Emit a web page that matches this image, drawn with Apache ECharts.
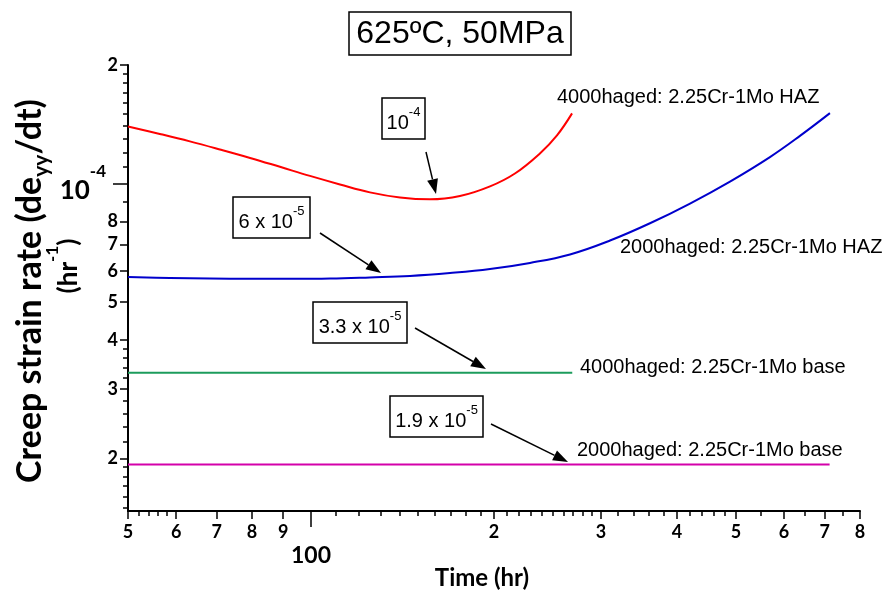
<!DOCTYPE html>
<html>
<head>
<meta charset="utf-8">
<script src="https://cdn.jsdelivr.net/npm/echarts@6/dist/echarts.min.js"></script>
<style>html,body{margin:0;padding:0;background:#fff}#c{width:885px;height:595px}</style>
</head>
<body>
<div id="c"></div>
<script>
// ---- data (raw values) ----
const redX = [50, 56.4, 63.2, 70.8, 79.4, 88.9, 99.6, 111.6, 125.0, 140.1, 156.9, 175.8, 197.0, 216.5, 238.0, 253.9, 268.8];
const redY = [1.396e-4, 1.336e-4, 1.279e-4, 1.220e-4, 1.161e-4, 1.102e-4, 1.045e-4, 0.994e-4, 0.949e-4, 0.921e-4, 0.911e-4, 0.929e-4, 0.983e-4, 1.060e-4, 1.192e-4, 1.325e-4, 1.507e-4];
const blueX = [50, 58.6, 68.2, 79.4, 92.4, 107.5, 125.0, 145.5, 169.3, 197.0, 229.2, 266.7, 310.4, 361.1, 420.2, 488.9, 568.8, 637.3, 713.9];
const blueY = [5.78e-5, 5.75e-5, 5.73e-5, 5.72e-5, 5.72e-5, 5.73e-5, 5.77e-5, 5.82e-5, 5.92e-5, 6.06e-5, 6.28e-5, 6.60e-5, 7.16e-5, 7.92e-5, 8.89e-5, 1.011e-4, 1.167e-4, 1.321e-4, 1.509e-4];
const greenX = [50, 269];
const greenY = [3.3e-5, 3.3e-5];
const magentaX = [50, 713];
const magentaY = [1.93e-5, 1.93e-5];

const seriesNames = ['4000haged: 2.25Cr-1Mo HAZ', '2000haged: 2.25Cr-1Mo HAZ', '4000haged: 2.25Cr-1Mo base', '2000haged: 2.25Cr-1Mo base'];

// axis ticks
const xRange = [50, 800];
const yRange = [1.47e-5, 2e-4];
const xLabeledTicks = [50, 60, 70, 80, 90, 200, 300, 400, 500, 600, 700, 800];
const xBigTick = [100];
const xMinorTicks = [52, 54, 56, 58, 110, 120, 130, 140, 150, 160, 170, 180, 190, 210, 220, 230, 240, 250, 260, 270, 280, 290, 320, 340, 360, 380, 420, 440, 460, 480, 550, 650, 750];
const yLabeledTicks = [2e-5, 3e-5, 4e-5, 5e-5, 6e-5, 7e-5, 8e-5, 2e-4];
const yBigTick = [1e-4];
const yMinorTicks = [1.5e-5, 1.6e-5, 1.7e-5, 1.8e-5, 1.9e-5, 2.2e-5, 2.4e-5, 2.6e-5, 2.8e-5, 3.2e-5, 3.4e-5, 3.6e-5, 3.8e-5, 9e-5, 1.1e-4, 1.2e-4, 1.3e-4, 1.4e-4, 1.5e-4, 1.6e-4, 1.7e-4, 1.8e-4, 1.9e-4];

const L = Math.log10;
const pairs = (xs, ys) => xs.map((x, i) => [L(x), L(ys[i])]);

const AX = '#000';
const lblFont = 'Lato, "Open Sans", sans-serif';
const txtFont = '"Liberation Sans", Arial, sans-serif';

function xAxisBase(extra) {
  return Object.assign({
    type: 'value', position: 'bottom', min: L(xRange[0]), max: L(xRange[1]),
    splitLine: { show: false },
    axisLine: { show: false, onZero: false },
  }, extra);
}
function yAxisBase(extra) {
  return Object.assign({
    type: 'value', position: 'left', min: L(yRange[0]), max: L(yRange[1]),
    splitLine: { show: false },
    axisLine: { show: false, onZero: false },
  }, extra);
}

const xFmt = v => { const n = Math.round(Math.pow(10, v)); return String(n >= 100 ? n / 100 : n / 10); };
const yFmt = v => { const n = Math.round(Math.pow(10, v) * 1e5); return String(n >= 10 ? n / 10 : n); };

const chart = echarts.init(document.getElementById('c'), null, { renderer: 'canvas' });

const option = {
  animation: false,
  backgroundColor: '#fff',
  grid: { left: 128, right: 25, top: 65, bottom: 84 },
  xAxis: [
    xAxisBase({
      axisLine: { show: true, onZero: false, lineStyle: { color: AX, width: 2 } },
      axisTick: { show: true, length: 8, customValues: xLabeledTicks.map(L), lineStyle: { color: AX, width: 1.5 } },
      axisLabel: { show: true, customValues: xLabeledTicks.map(L), formatter: xFmt, margin: 12,
        fontSize: 18, fontWeight: 'bold', color: AX, fontFamily: lblFont }
    }),
    xAxisBase({
      axisTick: { show: true, length: 5, customValues: xMinorTicks.map(L), lineStyle: { color: AX, width: 1.5 } },
      axisLabel: { show: false }
    }),
    xAxisBase({
      axisTick: { show: true, length: 16, customValues: xBigTick.map(L), lineStyle: { color: AX, width: 1.5 } },
      axisLabel: { show: true, customValues: xBigTick.map(L), formatter: v => String(Math.round(Math.pow(10, v))), margin: 33,
        fontSize: 23, fontWeight: 'bold', color: AX, fontFamily: lblFont }
    })
  ],
  yAxis: [
    yAxisBase({
      axisLine: { show: true, onZero: false, lineStyle: { color: AX, width: 2 } },
      axisTick: { show: true, length: 8, customValues: yLabeledTicks.map(L), lineStyle: { color: AX, width: 1.5 } },
      axisLabel: { show: true, customValues: yLabeledTicks.map(L), formatter: yFmt, margin: 10,
        fontSize: 18, fontWeight: 'bold', color: AX, fontFamily: lblFont }
    }),
    yAxisBase({
      axisTick: { show: true, length: 5, customValues: yMinorTicks.map(L), lineStyle: { color: AX, width: 1.5 } },
      axisLabel: { show: false }
    }),
    yAxisBase({
      axisTick: { show: true, length: 15, customValues: yBigTick.map(L), lineStyle: { color: AX, width: 1.5 } },
      axisLabel: { show: true, customValues: yBigTick.map(L), margin: 22,
        formatter: v => '{b|10}{s|' + Math.round(v) + '}',
        rich: {
          b: { fontSize: 26, fontWeight: 'bold', color: AX, fontFamily: lblFont, lineHeight: 40, verticalAlign: 'bottom' },
          s: { fontSize: 17, fontWeight: 'bold', color: AX, fontFamily: lblFont, lineHeight: 17, verticalAlign: 'top' }
        } }
    })
  ],
  series: [
    { name: seriesNames[0], type: 'line', data: pairs(redX, redY), smooth: 0.4, symbol: 'none', lineStyle: { color: '#ff0000', width: 2 } },
    { name: seriesNames[1], type: 'line', data: pairs(blueX, blueY), smooth: 0.4, symbol: 'none', lineStyle: { color: '#0000cc', width: 2 } },
    { name: seriesNames[2], type: 'line', data: pairs(greenX, greenY), symbol: 'none', lineStyle: { color: '#1c9c5c', width: 2 } },
    { name: seriesNames[3], type: 'line', data: pairs(magentaX, magentaY), symbol: 'none', lineStyle: { color: '#d400aa', width: 2 } }
  ]
};
chart.setOption(option);

// ---- annotations ----
function arrow(x1, y1, x2, y2) {
  const a = Math.atan2(y2 - y1, x2 - x1), c = Math.cos(a), s = Math.sin(a);
  const len = 15, w = 5.5;
  const bx = x2 - len * c, by = y2 - len * s;
  return [
    { type: 'line', shape: { x1: x1, y1: y1, x2: bx, y2: by }, style: { stroke: '#000', lineWidth: 1.5 } },
    { type: 'polygon', shape: { points: [[x2, y2], [bx - w * s, by + w * c], [bx + w * s, by - w * c]] }, style: { fill: '#000' } }
  ];
}
function box(x, y, w, h, text) {
  return [
    { type: 'rect', shape: { x: x, y: y, width: w, height: h }, style: { fill: '#fff', stroke: '#000', lineWidth: 1.5 } },
    { type: 'text', x: x + w / 2, y: y + h / 2 + 1, style: {
      text: text, align: 'center', verticalAlign: 'middle',
      rich: {
        n: { fontSize: 20, fontFamily: txtFont, fill: '#000', lineHeight: 27, verticalAlign: 'bottom' },
        e: { fontSize: 13, fontFamily: txtFont, fill: '#000', lineHeight: 13, verticalAlign: 'top' }
      } } }
  ];
}
function label(x, y, text) {
  return { type: 'text', x: x, y: y, style: { text: text, align: 'left', verticalAlign: 'middle', fontSize: 20, fontFamily: txtFont, fill: '#000' } };
}

const elements = [].concat(
  // title
  [{ type: 'rect', shape: { x: 349, y: 12, width: 222, height: 43 }, style: { fill: '#fff', stroke: '#000', lineWidth: 1.5 } },
   { type: 'text', x: 460, y: 34, style: { text: '625ºC, 50MPa', align: 'center', verticalAlign: 'middle', fontSize: 32, fontFamily: txtFont, fill: '#000' } }],
  box(382, 98, 43, 41, '{n|10}{e|-4}'),
  arrow(426, 152, 436, 194),
  box(233, 197, 77, 41, '{n|6 x 10}{e|-5}'),
  arrow(320, 233, 381, 273),
  box(313, 302, 94, 41, '{n|3.3 x 10}{e|-5}'),
  arrow(415, 328, 486, 369),
  box(390, 396, 93, 41, '{n|1.9 x 10}{e|-5}'),
  arrow(491, 424, 568, 462),
  [label(557, 97, seriesNames[0]), label(620, 247, seriesNames[1]), label(580, 367, seriesNames[2]), label(577, 450, seriesNames[3])],
  // axis titles
  [{ type: 'text', x: 482, y: 578, style: { text: 'Time (hr)', align: 'center', verticalAlign: 'middle', fontSize: 24, fontWeight: 'bold', fontFamily: lblFont, fill: '#000' } },
   { type: 'text', x: 30, y: 291, rotation: Math.PI / 2, style: {
      text: '{m|Creep strain rate (de}{sub|yy}{m|/dt)}', align: 'center', verticalAlign: 'middle',
      rich: {
        m: { fontSize: 34, fontWeight: 'bold', fontFamily: lblFont, fill: '#000', lineHeight: 44, verticalAlign: 'middle' },
        sub: { fontSize: 21, fontWeight: 'bold', fontFamily: lblFont, fill: '#000', lineHeight: 21, verticalAlign: 'bottom' }
      } } },
   { type: 'text', x: 63, y: 266, rotation: Math.PI / 2, style: {
      text: '{m|(hr}{sup|-1}{m|)}', align: 'center', verticalAlign: 'middle',
      rich: {
        m: { fontSize: 26, fontWeight: 'bold', fontFamily: lblFont, fill: '#000', lineHeight: 38, verticalAlign: 'bottom' },
        sup: { fontSize: 17, fontWeight: 'bold', fontFamily: lblFont, fill: '#000', lineHeight: 17, verticalAlign: 'top' }
      } } }]
);
chart.setOption({ graphic: { elements: elements } });
</script>
</body>
</html>
